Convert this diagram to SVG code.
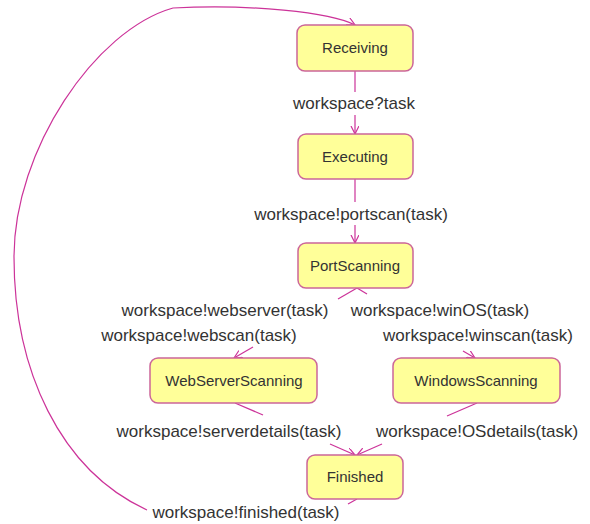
<svg xmlns="http://www.w3.org/2000/svg" width="590" height="524" viewBox="0 0 590 524">
  <defs>
    <marker id="arrow" markerWidth="10" markerHeight="10" refX="8" refY="4" orient="auto" markerUnits="userSpaceOnUse">
      <path d="M0,0 L8,4 L0,8" fill="none" stroke="#cc3399" stroke-width="1.2"/>
    </marker>
    <style>
      .state rect { fill: #ffff99; stroke: #cc6699; stroke-width: 1.5; }
      .state text { font-family: "Liberation Sans", Arial, sans-serif; font-size: 15px; fill: #333333; text-anchor: middle; }
      .edge { fill: none; stroke: #cc3399; stroke-width: 1.2; }
      .label { font-family: "Liberation Sans", Arial, sans-serif; font-size: 17px; fill: #333333; text-anchor: middle; }
    </style>
  </defs>
  <rect width="590" height="524" fill="#ffffff"/>

  <!-- transitions -->
  <g id="connectors">
    <!-- Receiving -> Executing -->
    <path class="edge" d="M355,71 L355,92"/>
    <path class="edge" d="M355,115 L355,134" marker-end="url(#arrow)"/>
    <!-- Executing -> PortScanning -->
    <path class="edge" d="M355,179 L355,202"/>
    <path class="edge" d="M355,225 L355,243" marker-end="url(#arrow)"/>
    <!-- PortScanning -> WebServerScanning -->
    <path class="edge" d="M357,288 L338,299"/>
    <path class="edge" d="M253,347 L234,358" marker-end="url(#arrow)"/>
    <!-- PortScanning -> WindowsScanning -->
    <path class="edge" d="M357,288 L367,294"/>
    <path class="edge" d="M463,351 L475,358" marker-end="url(#arrow)"/>
    <!-- WebServerScanning -> Finished -->
    <path class="edge" d="M235,403 L263,415"/>
    <path class="edge" d="M330,444 L355,455" marker-end="url(#arrow)"/>
    <!-- WindowsScanning -> Finished -->
    <path class="edge" d="M477,403 L447,416"/>
    <path class="edge" d="M382,444 L357,455" marker-end="url(#arrow)"/>
    <!-- Finished -> Receiving (loop back) -->
    <path class="edge" d="M357,499 L348,504"/>
    <path class="edge" d="M147,510 C60,470 14,370 14,257 C14,150 95,30 173,8 C250,4 330,12 355,25" marker-end="url(#arrow)"/>
  </g>

  <!-- transition labels -->
  <g id="labels">
    <text class="label" x="354" y="109">workspace?task</text>
    <text class="label" x="351" y="220">workspace!portscan(task)</text>
    <text class="label" x="225" y="316">workspace!webserver(task)</text>
    <text class="label" x="440" y="316">workspace!winOS(task)</text>
    <text class="label" x="199" y="341">workspace!webscan(task)</text>
    <text class="label" x="478" y="341">workspace!winscan(task)</text>
    <text class="label" x="229" y="437">workspace!serverdetails(task)</text>
    <text class="label" x="477" y="437">workspace!OSdetails(task)</text>
    <text class="label" x="246" y="518">workspace!finished(task)</text>
  </g>

  <!-- states -->
  <g id="receiving" class="state">
    <rect x="297" y="25" width="116" height="46" rx="8"/>
    <text x="355" y="53">Receiving</text>
  </g>
  <g id="executing" class="state">
    <rect x="298" y="134" width="115" height="45" rx="8"/>
    <text x="355" y="162">Executing</text>
  </g>
  <g id="portscanning" class="state">
    <rect x="298" y="243" width="115" height="45" rx="8"/>
    <text x="355" y="271">PortScanning</text>
  </g>
  <g id="webserverscanning" class="state">
    <rect x="150" y="358" width="167" height="45" rx="8"/>
    <text x="234" y="386">WebServerScanning</text>
  </g>
  <g id="windowsscanning" class="state">
    <rect x="393" y="358" width="167" height="45" rx="8"/>
    <text x="476" y="386">WindowsScanning</text>
  </g>
  <g id="finished" class="state">
    <rect x="307" y="455" width="96" height="44" rx="8"/>
    <text x="355" y="482">Finished</text>
  </g>
</svg>
